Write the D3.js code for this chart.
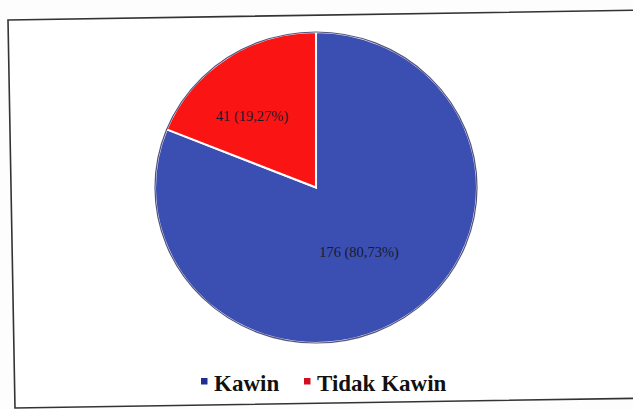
<!DOCTYPE html>
<html>
<head>
<meta charset="utf-8">
<script src="https://cdn.jsdelivr.net/npm/d3@7"></script>
<style>
  body { margin: 0; background: #fdfdfd; }
</style>
</head>
<body>
<div id="chart"></div>
<script>
const categories = ["Kawin", "Tidak Kawin"];
const counts = [176, 41];
const labels = ["176 (80,73%)", "41 (19,27%)"];
const colors = ["#3b4fb3", "#fb1414"];
const legendColors = ["#1f2f8f", "#d01020"];

const width = 633, height = 409;
const svg = d3.select("#chart").append("svg")
  .attr("width", width)
  .attr("height", height);

// frame (scan is slightly rotated)
svg.append("path")
  .attr("d", "M8,20 L650,10 L657,398 L15,408 Z")
  .attr("fill", "#ffffff")
  .attr("stroke", "#333")
  .attr("stroke-width", 1.6);

const cx = 316, cy = 187.5, r = 158;
const data = categories.map((c, i) => ({ name: c, value: counts[i], label: labels[i], color: colors[i] }));

const pie = d3.pie().value(d => d.value).sort(null);
const arc = d3.arc().innerRadius(0).outerRadius(r);

const g = svg.append("g").attr("transform", `translate(${cx},${cy}) scale(${161 / r},${155.5 / r})`);
const arcs = pie(data);

g.selectAll("path")
  .data(arcs)
  .enter()
  .append("path")
  .attr("d", arc)
  .attr("fill", d => d.data.color)
  .attr("stroke", "#fff")
  .attr("stroke-width", 2);

g.append("circle")
  .attr("r", r)
  .attr("fill", "none")
  .attr("stroke", "#1a1a50")
  .attr("stroke-opacity", 0.75)
  .attr("stroke-width", 1.2);

// labels
const labelPos = [[359, 257], [252, 121]];
svg.selectAll("text.lbl")
  .data(data)
  .enter()
  .append("text")
  .attr("class", "lbl")
  .attr("x", (d, i) => labelPos[i][0])
  .attr("y", (d, i) => labelPos[i][1])
  .attr("text-anchor", "middle")
  .attr("font-family", "Liberation Serif, Times New Roman, serif")
  .attr("font-size", 14.5)
  .attr("fill", "#1a1a2a")
  .text(d => d.label);

// legend
const legend = svg.append("g").attr("transform", "translate(0,391)");
const lx = [201, 304];
data.forEach((d, i) => {
  const item = legend.append("g").attr("transform", `translate(${lx[i]},0)`);
  item.append("rect")
    .attr("x", 0).attr("y", -13)
    .attr("width", 6.5).attr("height", 6.5)
    .attr("fill", legendColors[i]);
  item.append("text")
    .attr("x", 13).attr("y", 0)
    .attr("font-family", "Liberation Serif, Times New Roman, serif")
    .attr("font-weight", "bold")
    .attr("font-size", 23)
    .attr("fill", "#111")
    .text(d.name);
});
</script>
</body>
</html>
